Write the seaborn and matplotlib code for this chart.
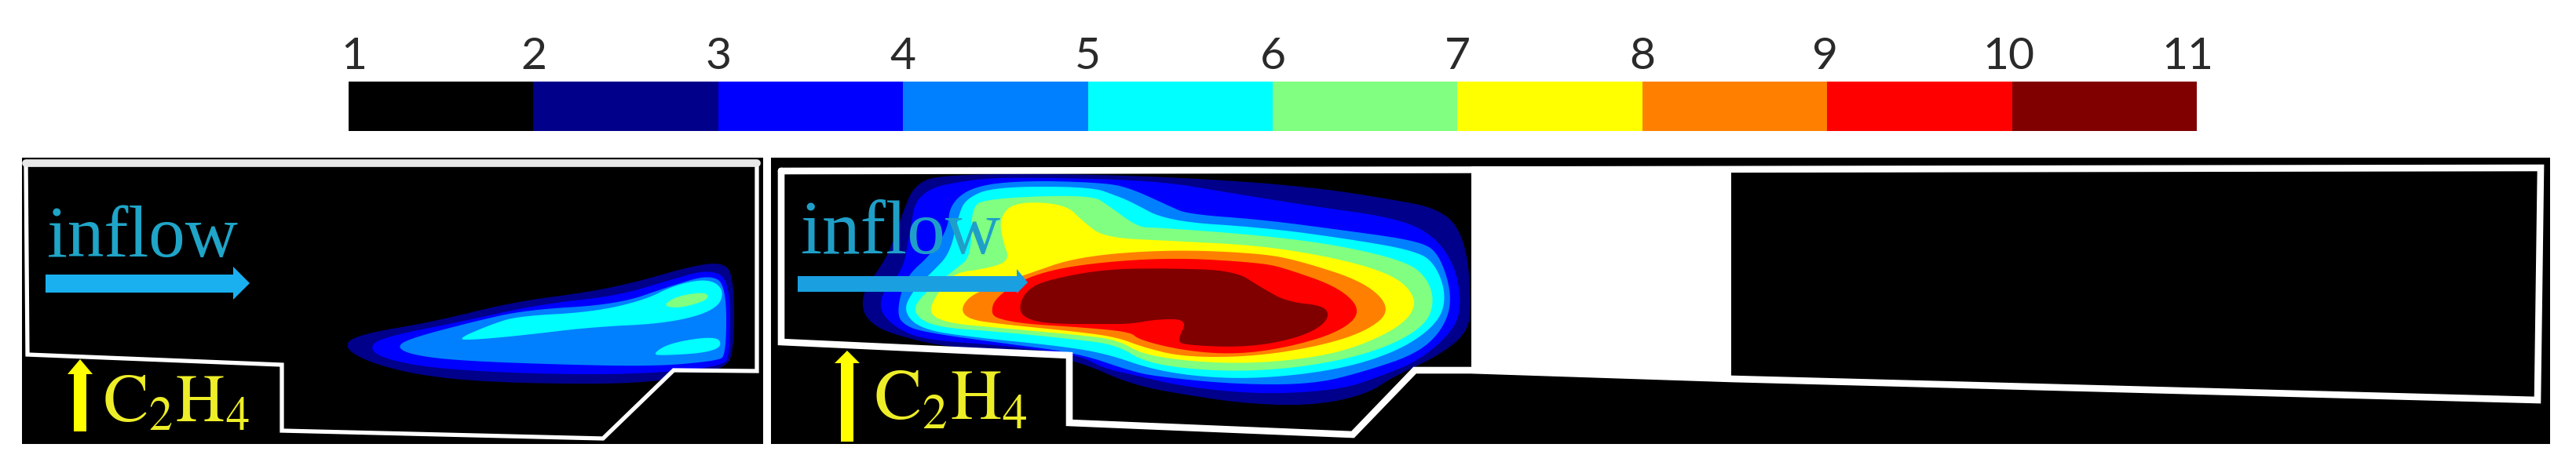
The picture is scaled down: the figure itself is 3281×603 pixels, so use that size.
import numpy as np
import matplotlib
matplotlib.use('Agg')
import matplotlib.pyplot as plt
from matplotlib.colors import ListedColormap
import seaborn as sns

# colour scale
levels = [1, 2, 3, 4, 5, 6, 7, 8, 9, 10, 11]
level_colors = ['#000000', '#00008a', '#0000ff', '#0080ff', '#00ffff', '#80ff80',
                '#ffff00', '#ff8000', '#ff0000', '#800000']
tick_pos = [0.03, 1.0, 2.0, 3.0, 4.0, 5.0, 6.0, 7.0, 7.99, 8.98, 9.95]

# panel outlines, read in picture pixels
left_outline_x = [33, 964, 964, 858, 768, 359, 359, 35]
left_outline_y = [208, 208, 473, 472, 559, 549, 465, 452]
right_outline_x = [995, 3236, 3232, 2206, 1873, 1802, 1723, 1362, 1362, 995]
right_outline_y = [218, 214, 510, 483, 472, 472, 554, 539, 453, 436]
right_gap_x = [1874, 2205, 2205, 1874]
right_gap_y = [212, 212, 484, 474]

# right plume, contours per level in picture pixels
r2 = [(1098,397),(1100,370),(1125,335),(1137,310),(1150,270),(1165,235),(1200,222),(1400,222),(1570,230),(1680,240),(1760,252),(1840,267),(1868,310),(1874,393),(1868,425),(1833,453),(1775,480),(1740,503),(1673,517),(1590,515),(1507,503),(1440,490),(1373,460),(1290,445),(1207,443),(1140,427),(1113,415)]
r3 = [(1120,395),(1125,370),(1150,345),(1158,300),(1168,243),(1240,228),(1307,226),(1473,230),(1573,247),(1673,263),(1773,277),(1823,297),(1853,337),(1862,390),(1850,423),(1807,460),(1757,480),(1707,497),(1607,503),(1507,493),(1440,477),(1407,470),(1373,452),(1273,440),(1173,433),(1137,415)]
r4 = [(1143,400),(1148,370),(1160,347),(1183,327),(1207,293),(1210,260),(1240,237),(1307,230),(1407,233),(1440,240),(1490,263),(1513,273),(1607,280),(1707,293),(1807,307),(1833,323),(1850,377),(1840,417),(1807,450),(1740,473),(1673,490),(1573,490),(1473,480),(1440,473),(1373,450),(1273,437),(1173,423),(1150,413)]
r5 = [(1150,397),(1163,370),(1187,347),(1210,323),(1220,277),(1230,253),(1267,238),(1390,238),(1423,250),(1440,257),(1487,282),(1607,290),(1707,303),(1807,320),(1830,340),(1842,377),(1833,410),(1790,443),(1723,467),(1640,480),(1557,483),(1473,473),(1407,450),(1340,440),(1240,430),(1173,420)]
r6 = [(1163,400),(1170,380),(1217,343),(1237,327),(1237,267),(1253,253),(1390,248),(1413,263),(1450,290),(1473,290),(1607,300),(1707,313),(1790,333),(1817,353),(1827,383),(1817,413),(1773,440),(1707,460),(1623,472),(1540,473),(1460,463),(1423,440),(1373,433),(1273,423),(1190,417)]
r7 = [(1190,380),(1213,348),(1253,343),(1287,333),(1277,307),(1273,277),(1293,257),(1357,260),(1380,283),(1407,303),(1490,307),(1607,313),(1707,330),(1773,350),(1800,373),(1802,397),(1773,423),(1707,450),(1623,462),(1540,463),(1457,453),(1423,433),(1373,427),(1273,418),(1207,412),(1183,400)]
r8 = [(1223,393),(1240,373),(1307,350),(1373,327),(1490,318),(1607,323),(1657,333),(1740,360),(1773,395),(1740,423),(1673,443),(1590,455),(1507,455),(1457,443),(1423,430),(1373,423),(1273,413),(1233,407)]
r9 = [(1262,400),(1267,380),(1307,353),(1373,337),(1490,328),(1607,335),(1640,343),(1707,367),(1735,397),(1707,423),(1640,443),(1573,452),(1507,447),(1450,433),(1440,423),(1373,417),(1307,413),(1273,407)]
r10 = [(1297,393),(1307,370),(1333,357),(1407,343),(1490,342),(1573,345),(1607,367),(1640,385),(1690,390),(1692,410),(1657,430),(1590,443),(1507,440),(1500,433),(1513,407),(1473,407),(1440,413),(1407,413),(1340,413),(1307,407)]

# left plume
l2 = [(437,443),(453,427),(553,410),(653,385),(753,372),(820,357),(870,342),(920,333),(935,353),(935,453),(920,470),(880,480),(797,490),(638,488),(542,480),(472,463)]
l3 = [(470,443),(487,430),(587,410),(687,388),(787,377),(853,357),(903,343),(930,357),(930,453),(920,467),(820,477),(687,477),(553,470),(487,457)]
l4 = [(505,443),(520,432),(603,410),(670,395),(787,388),(853,365),(903,350),(925,363),(925,453),(913,460),(837,467),(720,465),(587,460),(527,453)]
l5_top = [(580,433),(627,413),(660,403),(753,398),(820,383),(860,363),(903,355),(923,370),(913,395),(853,412),(753,417),(670,427),(607,433)]
l5_low = [(830,452),(853,437),(913,428),(920,442),(897,450),(847,453)]
l6 = [(843,390),(863,377),(900,372),(903,382),(867,393)]

right_plume = [(1, r2), (2, r3), (3, r4), (4, r5), (5, r6), (6, r7), (7, r8), (8, r9), (9, r10)]
left_plume = [(1, l2), (2, l3), (3, l4), (4, l5_top), (4, l5_low), (5, l6)]


def smooth(points):
    # corner cutting so the contours are not angular
    pts = np.array(points, dtype=float)
    for _ in range(3):
        nxt = np.roll(pts, -1, axis=0)
        pts = np.column_stack([0.75 * pts + 0.25 * nxt, 0.25 * pts + 0.75 * nxt]).reshape(-1, 2)
    return pts


def draw_plume(ax, plume, clip_x, clip_y):
    clip = plt.Polygon(np.column_stack([clip_x, clip_y]), closed=True, transform=ax.transData)
    for idx, points in plume:
        pts = smooth(points)
        patch = ax.fill(pts[:, 0], pts[:, 1], color=level_colors[idx], lw=0, zorder=2)[0]
        patch.set_clip_path(clip)


sns.set_style('white')
fig = plt.figure(figsize=(32.81, 6.03), dpi=100)
ax = fig.add_axes([0, 0, 1, 1])
ax.set_xlim(0, 3281)
ax.set_ylim(603, 0)
ax.axis('off')

# black backgrounds
ax.fill([28, 972, 972, 28], [201, 201, 566, 566], color='black', lw=0, zorder=1)
ax.fill([982, 3248, 3248, 982], [201, 201, 566, 566], color='black', lw=0, zorder=1)

draw_plume(ax, left_plume, left_outline_x, left_outline_y)
draw_plume(ax, right_plume, right_outline_x, right_outline_y)

# channel outlines
ax.fill(right_gap_x, right_gap_y, color='white', lw=0, zorder=3)
ax.plot(left_outline_x + left_outline_x[:1], left_outline_y + left_outline_y[:1],
        color='white', lw=3.8, solid_joinstyle='miter', zorder=4)
ax.plot(left_outline_x[:2], left_outline_y[:2], color='#e8e8e8', lw=7, zorder=4)
ax.plot(right_outline_x + right_outline_x[:1], right_outline_y + right_outline_y[:1],
        color='white', lw=6.2, solid_joinstyle='miter', zorder=4)

# labels
ax.text(60, 327, 'inflow', family='Liberation Serif', fontsize=67, color='#1fa5c8',
        ha='left', va='baseline', zorder=5)
ax.text(1020, 323, 'inflow', family='Liberation Serif', fontsize=70, color='#1f9fc8',
        ha='left', va='baseline', zorder=5)
ax.fill([58, 297, 297, 318, 297, 297, 58], [350, 350, 340, 361, 382, 373, 373],
        color='#1ab0f0', lw=0, zorder=5)
ax.fill([1016, 1295, 1295, 1309, 1295, 1295, 1016], [352, 352, 343, 360, 374, 372, 372],
        color='#1a9fe0', lw=0, zorder=5)
ax.fill([94, 94, 86, 102, 118, 110, 110], [550, 477, 477, 458, 477, 477, 550],
        color='#ffff00', lw=0, zorder=5)
ax.fill([1071, 1071, 1063, 1079, 1095, 1087, 1087], [563, 463, 463, 447, 463, 463, 563],
        color='#ffff00', lw=0, zorder=5)
plt.rcParams['mathtext.fontset'] = 'stix'
ax.text(131, 537, r'$\mathrm{C_2H_4}$', fontsize=62, color='#eeee28', ha='left',
        va='baseline', zorder=5)
ax.text(1113, 535, r'$\mathrm{C_2H_4}$', fontsize=65, color='#eeee28', ha='left',
        va='baseline', zorder=5)

# colour bar
cax = fig.add_axes([444 / 3281, 1 - 167 / 603, 2354 / 3281, 63 / 603])
sns.heatmap(np.array([levels[:-1]]), ax=cax, cmap=ListedColormap(level_colors), cbar=False,
            xticklabels=False, yticklabels=False, vmin=0.5, vmax=10.5)
cax.set_xticks(tick_pos)
cax.set_xticklabels(levels, family='Lato', fontsize=41, color='#2a2a2a')
cax.xaxis.tick_top()
cax.tick_params(axis='x', length=0, pad=4)

fig.savefig('out.png', dpi=100)
